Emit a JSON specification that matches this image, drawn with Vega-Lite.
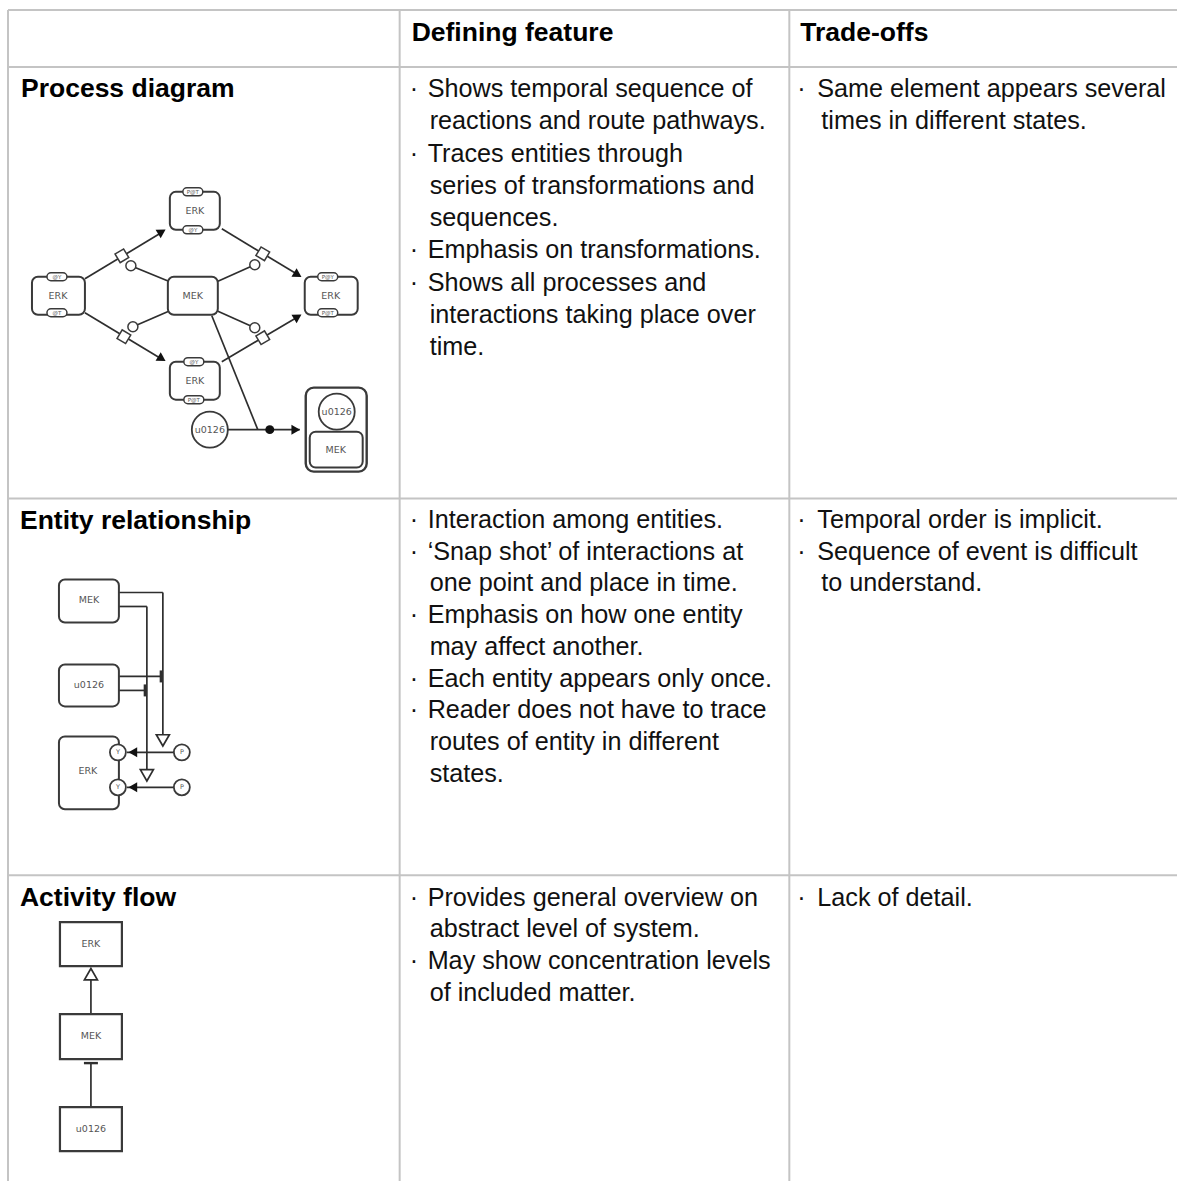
{
"$schema": "https://vega.github.io/schema/vega-lite/v6.json",
"width": 1178, "height": 1182,
"autosize": {"type": "fit", "contains": "padding"},
"padding": 0,
"background": "white",
"config": {"view": {"stroke": null}},
"data": {"values": [
{"kind":"grid","x":8,"y":10,"x2":1178,"y2":10},
{"kind":"grid","x":8,"y":67,"x2":1178,"y2":67},
{"kind":"grid","x":8,"y":499,"x2":1178,"y2":499},
{"kind":"grid","x":8,"y":876,"x2":1178,"y2":876},
{"kind":"grid","x":8,"y":10,"x2":8,"y2":1182},
{"kind":"grid","x":400,"y":10,"x2":400,"y2":1182},
{"kind":"grid","x":790,"y":10,"x2":790,"y2":1182},

{"kind":"edge","x":85,"y":279,"x2":163,"y2":232},
{"kind":"edge","x":222,"y":229,"x2":300,"y2":276},
{"kind":"edge","x":85,"y":313,"x2":163,"y2":360},
{"kind":"edge","x":222,"y":362,"x2":300,"y2":316},
{"kind":"edge","x":170,"y":282,"x2":131,"y2":266},
{"kind":"edge","x":217,"y":282,"x2":255,"y2":265},
{"kind":"edge","x":170,"y":311,"x2":133,"y2":327},
{"kind":"edge","x":217,"y":311,"x2":255,"y2":328},
{"kind":"edge","x":212,"y":316,"x2":258,"y2":430},
{"kind":"edge","x":228,"y":430,"x2":300,"y2":430},
{"kind":"edge","x":127,"y":753,"x2":174,"y2":753},
{"kind":"edge","x":127,"y":788,"x2":174,"y2":788},
{"kind":"edge","x":119,"y":593,"x2":163,"y2":593},
{"kind":"edge","x":163,"y":593,"x2":163,"y2":736},
{"kind":"edge","x":119,"y":607,"x2":147,"y2":607},
{"kind":"edge","x":147,"y":607,"x2":147,"y2":772},
{"kind":"edge","x":119,"y":677,"x2":161,"y2":677},
{"kind":"edge","x":119,"y":691,"x2":145,"y2":691},
{"kind":"edge","x":91,"y":977,"x2":91,"y2":1015},
{"kind":"edge","x":91,"y":1065,"x2":91,"y2":1108},

{"kind":"bar","x":161,"y":671,"x2":161,"y2":683},
{"kind":"bar","x":145,"y":685,"x2":145,"y2":697},
{"kind":"bar","x":84,"y":1064,"x2":98,"y2":1064},

{"kind":"cplx","x":306,"y":388,"x2":367,"y2":472},

{"kind":"box","x":32,"y":277,"x2":85,"y2":315},
{"kind":"box","x":170,"y":192,"x2":220,"y2":230},
{"kind":"box","x":168,"y":277,"x2":218,"y2":315},
{"kind":"box","x":305,"y":277,"x2":358,"y2":315},
{"kind":"box","x":170,"y":362,"x2":220,"y2":400},
{"kind":"box","x":310,"y":432,"x2":363,"y2":468},
{"kind":"box","x":59,"y":580,"x2":119,"y2":623},
{"kind":"box","x":59,"y":665,"x2":119,"y2":707},
{"kind":"box","x":59,"y":737,"x2":119,"y2":810},

{"kind":"sq","x":60,"y":923,"x2":122,"y2":967},
{"kind":"sq","x":60,"y":1015,"x2":122,"y2":1060},
{"kind":"sq","x":60,"y":1108,"x2":122,"y2":1152},

{"kind":"sv","x":47,"y":273,"x2":67,"y2":281},
{"kind":"sv","x":47,"y":309,"x2":67,"y2":317},
{"kind":"sv","x":183,"y":188,"x2":203,"y2":196},
{"kind":"sv","x":183,"y":226,"x2":203,"y2":234},
{"kind":"sv","x":318,"y":273,"x2":338,"y2":281},
{"kind":"sv","x":318,"y":309,"x2":338,"y2":317},
{"kind":"sv","x":184,"y":358,"x2":204,"y2":366},
{"kind":"sv","x":184,"y":396,"x2":204,"y2":404},

{"kind":"bigc","x":210,"y":430},
{"kind":"bigc","x":337,"y":412},
{"kind":"midc","x":118,"y":753},
{"kind":"midc","x":118,"y":788},
{"kind":"midc","x":182,"y":753},
{"kind":"midc","x":182,"y":788},
{"kind":"smc","x":131,"y":266},
{"kind":"smc","x":255,"y":265},
{"kind":"smc","x":133,"y":327},
{"kind":"smc","x":255,"y":328},
{"kind":"dot","x":270,"y":430},
{"kind":"node","x":122,"y":256,"a":-31},
{"kind":"node","x":263,"y":254,"a":31},
{"kind":"node","x":124,"y":337,"a":31},
{"kind":"node","x":263,"y":338,"a":-31},
{"kind":"arrow","x":162,"y":232,"a":59},
{"kind":"arrow","x":298,"y":275,"a":121},
{"kind":"arrow","x":162,"y":359,"a":121},
{"kind":"arrow","x":298,"y":317,"a":59},
{"kind":"arrow","x":296,"y":430,"a":90},
{"kind":"arrow","x":133,"y":753,"a":270},
{"kind":"arrow","x":133,"y":788,"a":270},
{"kind":"oarrow","x":163,"y":741,"a":180},
{"kind":"oarrow","x":147,"y":776,"a":180},
{"kind":"oarrow","x":91,"y":975,"a":0},

{"kind":"lbl","x":58,"y":296,"t":"ERK"},
{"kind":"lbl","x":195,"y":211,"t":"ERK"},
{"kind":"lbl","x":193,"y":296,"t":"MEK"},
{"kind":"lbl","x":331,"y":296,"t":"ERK"},
{"kind":"lbl","x":195,"y":381,"t":"ERK"},
{"kind":"lbl","x":210,"y":430,"t":"u0126"},
{"kind":"lbl","x":337,"y":412,"t":"u0126"},
{"kind":"lbl","x":336,"y":450,"t":"MEK"},
{"kind":"lbl","x":89,"y":601,"t":"MEK"},
{"kind":"lbl","x":89,"y":686,"t":"u0126"},
{"kind":"lbl","x":88,"y":772,"t":"ERK"},
{"kind":"lbl","x":91,"y":945,"t":"ERK"},
{"kind":"lbl","x":91,"y":1037,"t":"MEK"},
{"kind":"lbl","x":91,"y":1130,"t":"u0126"},
{"kind":"tiny","x":118,"y":753,"t":"Y"},
{"kind":"tiny","x":118,"y":788,"t":"Y"},
{"kind":"tiny","x":182,"y":753,"t":"P"},
{"kind":"tiny","x":182,"y":788,"t":"P"},
{"kind":"svl","x":57,"y":277,"t":"@Y"},
{"kind":"svl","x":57,"y":313,"t":"@T"},
{"kind":"svl","x":193,"y":192,"t":"P@T"},
{"kind":"svl","x":193,"y":230,"t":"@Y"},
{"kind":"svl","x":328,"y":277,"t":"P@Y"},
{"kind":"svl","x":328,"y":313,"t":"P@T"},
{"kind":"svl","x":194,"y":362,"t":"@Y"},
{"kind":"svl","x":194,"y":400,"t":"P@T"},

{"kind":"head","x":412,"y":41,"t":"Defining feature"},
{"kind":"head","x":801,"y":41,"t":"Trade-offs"},
{"kind":"head","x":21,"y":97,"t":"Process diagram"},
{"kind":"head","x":20,"y":529,"t":"Entity relationship"},
{"kind":"head","x":20,"y":907,"t":"Activity flow"},

{"kind":"body","x":410,"y":97,"t":"·"},
{"kind":"body","x":428,"y":97,"t":"Shows temporal sequence of"},
{"kind":"body","x":430,"y":129,"t":"reactions and route pathways."},
{"kind":"body","x":410,"y":162,"t":"·"},
{"kind":"body","x":428,"y":162,"t":"Traces entities through"},
{"kind":"body","x":430,"y":194,"t":"series of transformations and"},
{"kind":"body","x":430,"y":226,"t":"sequences."},
{"kind":"body","x":410,"y":258,"t":"·"},
{"kind":"body","x":428,"y":258,"t":"Emphasis on transformations."},
{"kind":"body","x":410,"y":291,"t":"·"},
{"kind":"body","x":428,"y":291,"t":"Shows all processes and"},
{"kind":"body","x":430,"y":323,"t":"interactions taking place over"},
{"kind":"body","x":430,"y":355,"t":"time."},

{"kind":"body","x":410,"y":528,"t":"·"},
{"kind":"body","x":428,"y":528,"t":"Interaction among entities."},
{"kind":"body","x":410,"y":560,"t":"·"},
{"kind":"body","x":428,"y":560,"t":"‘Snap shot’ of interactions at"},
{"kind":"body","x":430,"y":592,"t":"one point and place in time."},
{"kind":"body","x":410,"y":624,"t":"·"},
{"kind":"body","x":428,"y":624,"t":"Emphasis on how one entity"},
{"kind":"body","x":430,"y":656,"t":"may affect another."},
{"kind":"body","x":410,"y":688,"t":"·"},
{"kind":"body","x":428,"y":688,"t":"Each entity appears only once."},
{"kind":"body","x":410,"y":719,"t":"·"},
{"kind":"body","x":428,"y":719,"t":"Reader does not have to trace"},
{"kind":"body","x":430,"y":751,"t":"routes of entity in different"},
{"kind":"body","x":430,"y":783,"t":"states."},

{"kind":"body","x":410,"y":907,"t":"·"},
{"kind":"body","x":428,"y":907,"t":"Provides general overview on"},
{"kind":"body","x":430,"y":938,"t":"abstract level of system."},
{"kind":"body","x":410,"y":970,"t":"·"},
{"kind":"body","x":428,"y":970,"t":"May show concentration levels"},
{"kind":"body","x":430,"y":1002,"t":"of included matter."},

{"kind":"body","x":798,"y":97,"t":"·"},
{"kind":"body","x":818,"y":97,"t":"Same element appears several"},
{"kind":"body","x":822,"y":129,"t":"times in different states."},
{"kind":"body","x":798,"y":528,"t":"·"},
{"kind":"body","x":818,"y":528,"t":"Temporal order is implicit."},
{"kind":"body","x":798,"y":560,"t":"·"},
{"kind":"body","x":818,"y":560,"t":"Sequence of event is difficult"},
{"kind":"body","x":822,"y":592,"t":"to understand."},
{"kind":"body","x":798,"y":907,"t":"·"},
{"kind":"body","x":818,"y":907,"t":"Lack of detail."}
]},
"encoding": {
  "x": {"field": "x", "type": "quantitative", "scale": {"domain": [0, 1178], "nice": false, "zero": false}, "axis": null},
  "y": {"field": "y", "type": "quantitative", "scale": {"domain": [0, 1182], "nice": false, "zero": false, "reverse": true}, "axis": null}
},
"layer": [
  {"transform": [{"filter": "datum.kind === 'grid'"}], "mark": {"type": "rule", "stroke": "#c4c4c4", "strokeWidth": 2}, "encoding": {"x2": {"field": "x2"}, "y2": {"field": "y2"}}},
  {"transform": [{"filter": "datum.kind === 'edge'"}], "mark": {"type": "rule", "stroke": "#2e2e2e", "strokeWidth": 1.7}, "encoding": {"x2": {"field": "x2"}, "y2": {"field": "y2"}}},
  {"transform": [{"filter": "datum.kind === 'bar'"}], "mark": {"type": "rule", "stroke": "#2e2e2e", "strokeWidth": 2.4}, "encoding": {"x2": {"field": "x2"}, "y2": {"field": "y2"}}},
  {"transform": [{"filter": "datum.kind === 'cplx'"}], "mark": {"type": "rect", "cornerRadius": 8, "fill": "white", "stroke": "#3a3a3a", "strokeWidth": 2.4}, "encoding": {"x2": {"field": "x2"}, "y2": {"field": "y2"}}},
  {"transform": [{"filter": "datum.kind === 'box'"}], "mark": {"type": "rect", "cornerRadius": 6, "fill": "white", "stroke": "#3a3a3a", "strokeWidth": 2}, "encoding": {"x2": {"field": "x2"}, "y2": {"field": "y2"}}},
  {"transform": [{"filter": "datum.kind === 'sq'"}], "mark": {"type": "rect", "cornerRadius": 0, "fill": "white", "stroke": "#3a3a3a", "strokeWidth": 2.2}, "encoding": {"x2": {"field": "x2"}, "y2": {"field": "y2"}}},
  {"transform": [{"filter": "datum.kind === 'sv'"}], "mark": {"type": "rect", "cornerRadius": 4, "fill": "white", "stroke": "#3a3a3a", "strokeWidth": 1.5}, "encoding": {"x2": {"field": "x2"}, "y2": {"field": "y2"}}},
  {"transform": [{"filter": "datum.kind === 'bigc'"}], "mark": {"type": "point", "shape": "circle", "filled": true, "fill": "white", "stroke": "#3a3a3a", "strokeWidth": 1.8, "size": 1296, "opacity": 1}},
  {"transform": [{"filter": "datum.kind === 'midc'"}], "mark": {"type": "point", "shape": "circle", "filled": true, "fill": "white", "stroke": "#3a3a3a", "strokeWidth": 1.8, "size": 256, "opacity": 1}},
  {"transform": [{"filter": "datum.kind === 'smc'"}], "mark": {"type": "point", "shape": "circle", "filled": true, "fill": "white", "stroke": "#3a3a3a", "strokeWidth": 1.5, "size": 100, "opacity": 1}},
  {"transform": [{"filter": "datum.kind === 'dot'"}], "mark": {"type": "point", "shape": "circle", "filled": true, "fill": "#111", "strokeWidth": 0, "size": 80, "opacity": 1}},
  {"transform": [{"filter": "datum.kind === 'node'"}], "mark": {"type": "point", "shape": "square", "filled": true, "fill": "white", "stroke": "#3a3a3a", "strokeWidth": 1.5, "size": 100, "opacity": 1}, "encoding": {"angle": {"field": "a", "type": "quantitative", "scale": null}}},
  {"transform": [{"filter": "datum.kind === 'arrow'"}], "mark": {"type": "point", "shape": "triangle-up", "filled": true, "fill": "#111", "strokeWidth": 0, "size": 100, "opacity": 1}, "encoding": {"angle": {"field": "a", "type": "quantitative", "scale": null}}},
  {"transform": [{"filter": "datum.kind === 'oarrow'"}], "mark": {"type": "point", "shape": "triangle-up", "filled": true, "fill": "white", "stroke": "#2e2e2e", "strokeWidth": 1.7, "size": 170, "opacity": 1}, "encoding": {"angle": {"field": "a", "type": "quantitative", "scale": null}}},
  {"transform": [{"filter": "datum.kind === 'lbl'"}], "mark": {"type": "text", "align": "center", "baseline": "middle", "font": "DejaVu Sans", "fontSize": 9.5, "fill": "#555"}, "encoding": {"text": {"field": "t"}}},
  {"transform": [{"filter": "datum.kind === 'tiny'"}], "mark": {"type": "text", "align": "center", "baseline": "middle", "font": "DejaVu Sans", "fontSize": 6.5, "fill": "#555"}, "encoding": {"text": {"field": "t"}}},
  {"transform": [{"filter": "datum.kind === 'svl'"}], "mark": {"type": "text", "align": "center", "baseline": "middle", "font": "DejaVu Sans", "fontSize": 5.5, "fill": "#555"}, "encoding": {"text": {"field": "t"}}},
  {"transform": [{"filter": "datum.kind === 'head'"}], "mark": {"type": "text", "align": "left", "baseline": "alphabetic", "font": "Liberation Sans", "fontWeight": "bold", "fontSize": 26.5, "fill": "#000"}, "encoding": {"text": {"field": "t"}}},
  {"transform": [{"filter": "datum.kind === 'body'"}], "mark": {"type": "text", "align": "left", "baseline": "alphabetic", "font": "Liberation Sans", "fontSize": 25.2, "fill": "#111"}, "encoding": {"text": {"field": "t"}}}
]
}
